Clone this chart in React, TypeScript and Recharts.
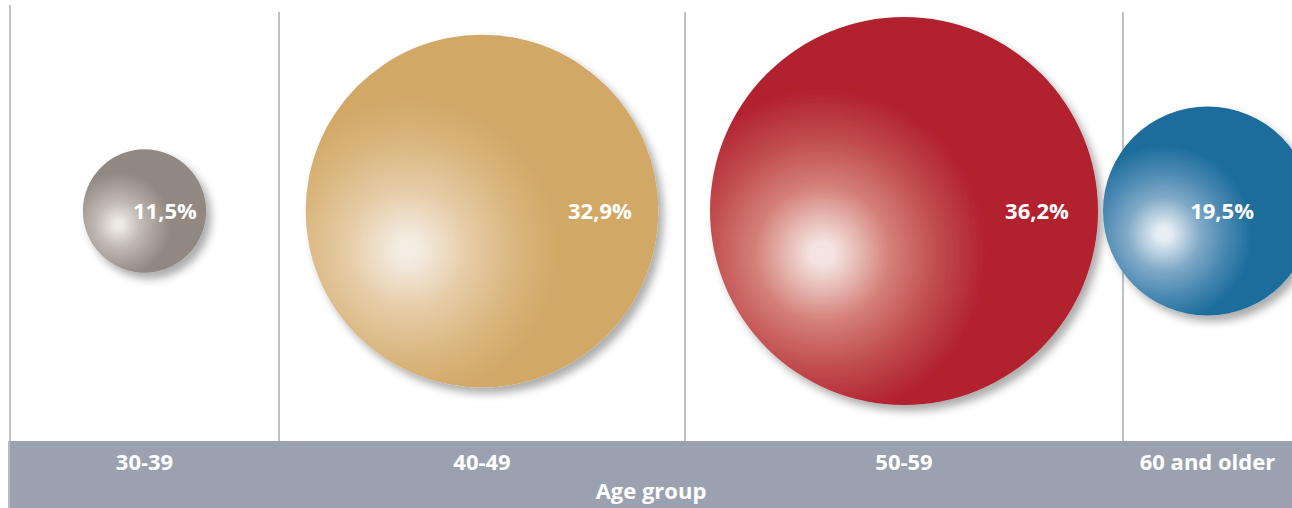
import {
  ScatterChart,
  Scatter,
  XAxis,
  YAxis,
  ZAxis,
  ReferenceLine,
} from 'recharts'

// share of respondents per age group, in percent
const ageGroups = ['30-39', '40-49', '50-59', '60 and older']
const shares = [11.5, 32.9, 36.2, 19.5]

// layout: column widths along the x axis (plot starts 10px in)
const columnWidths = [269, 406, 438, 169]
const plotWidth = columnWidths.reduce((a, b) => a + b, 0)
const columnEdges = columnWidths.map((_, i) =>
  columnWidths.slice(0, i).reduce((a, b) => a + b, 0),
)

const bubbleColors = [
  { light: '#efebe7', mid: '#c2bbb6', deep: '#a9a09a', base: '#928882' },
  { light: '#f5ede3', mid: '#e5cba5', deep: '#dab780', base: '#d1a866' },
  { light: '#f5e4e0', mid: '#d47f78', deep: '#c04b4c', base: '#b1202f' },
  { light: '#e8f0f5', mid: '#80aac7', deep: '#4a88b2', base: '#1c6d9c' },
]

const MAX_RADIUS = 194
const FONT = "'Open Sans', 'Noto Sans', sans-serif"

// plot area runs from y=-19 to y=441 so the bubbles sit at y=211
const PLOT_TOP = -19
const PLOT_BOTTOM = 441
const toY = (px: number) => (PLOT_BOTTOM - px) / (PLOT_BOTTOM - PLOT_TOP)

const rows = ageGroups.map((group, i) => ({
  group,
  share: shares[i],
  x: columnEdges[i] + columnWidths[i] / 2,
  right: columnEdges[i] + columnWidths[i],
  y: 0.5,
  idx: i,
}))

const formatShare = (v: number) => `${v.toFixed(1).replace('.', ',')}%`

function Bubble(props: any) {
  const { cx, cy, payload } = props
  // ZAxis range is given in pixels of radius
  const r = props.size ?? Math.PI * (props.width / 2) ** 2
  const colRightPx = props.cx + (payload.right - payload.x)
  const labelX = Math.min(cx + r * 0.85, colRightPx - 38)
  return (
    <g>
      <circle
        cx={cx}
        cy={cy}
        r={r}
        fill={`url(#bubble-${payload.idx})`}
        filter="url(#bubbleShadow)"
      />
      <text
        x={labelX}
        y={cy + 8}
        textAnchor="end"
        fill="#fff"
        fontFamily={FONT}
        fontWeight={700}
        fontSize={22}
      >
        {formatShare(payload.share)}
      </text>
    </g>
  )
}

function GroupTick(props: any) {
  const { x, y, payload } = props
  const i = columnEdges.findIndex((e, k) => payload.value === e + columnWidths[k] / 2)
  return (
    <text
      x={x}
      y={y + 29}
      textAnchor="middle"
      fill="#fff"
      fontFamily={FONT}
      fontWeight={700}
      fontSize={22}
    >
      {ageGroups[i]}
    </text>
  )
}

function AxisTitle(props: any) {
  const { viewBox } = props
  return (
    <text
      x={viewBox.x + viewBox.width / 2}
      y={viewBox.y + 58}
      textAnchor="middle"
      fill="#fff"
      fontFamily={FONT}
      fontWeight={700}
      fontSize={22}
    >
      Age group
    </text>
  )
}

export default function App() {
  return (
    <div
      style={{
        position: 'absolute',
        left: 0,
        top: 0,
        width: 1292,
        height: 508,
        background: '#fff',
      }}
    >
      {/* grey band behind the category axis */}
      <div
        style={{
          position: 'absolute',
          left: 8,
          top: 441,
          width: 1284,
          height: 67,
          background: '#9ba2af',
          borderLeft: '2px solid #b6bcc6',
          boxSizing: 'border-box',
        }}
      />
      <ScatterChart
        width={1292}
        height={508}
        margin={{ top: PLOT_TOP, right: 0, bottom: 0, left: 10 }}
        style={{ position: 'absolute', left: 0, top: 0 }}
      >
        <defs>
          {bubbleColors.map((c, i) => (
            <radialGradient
              key={i}
              id={`bubble-${i}`}
              cx="0.29"
              cy="0.61"
              r="0.5"
              fx="0.29"
              fy="0.61"
            >
              <stop offset="0" stopColor={c.light} />
              <stop offset="0.06" stopColor={c.light} stopOpacity={0.95} />
              <stop offset="0.35" stopColor={c.mid} />
              <stop offset="0.6" stopColor={c.deep} />
              <stop offset="0.85" stopColor={c.base} />
              <stop offset="1" stopColor={c.base} />
            </radialGradient>
          ))}
          <filter id="bubbleShadow" x="-20%" y="-20%" width="150%" height="150%">
            <feDropShadow dx="5" dy="6" stdDeviation="4" floodColor="#000" floodOpacity="0.33" />
          </filter>
        </defs>
        <XAxis
          type="number"
          dataKey="x"
          domain={[0, plotWidth]}
          ticks={rows.map((d) => d.x)}
          interval={0}
          tick={<GroupTick />}
          tickSize={0}
          tickMargin={0}
          axisLine={false}
          tickLine={false}
          height={67}
          label={{ content: <AxisTitle /> }}
        />
        <YAxis type="number" dataKey="y" domain={[0, 1]} hide />
        <ZAxis type="number" dataKey="share" domain={[0, 'dataMax']} range={[0, MAX_RADIUS]} />
        {columnEdges.map((e, i) => (
          <ReferenceLine
            key={e}
            segment={[
              { x: e, y: 0 },
              { x: e, y: toY(i === 0 ? 5 : 12) },
            ]}
            stroke="#bcc2cc"
            strokeWidth={2}
          />
        ))}
        <Scatter data={rows} shape={<Bubble />} isAnimationActive={false} />
      </ScatterChart>
    </div>
  )
}
